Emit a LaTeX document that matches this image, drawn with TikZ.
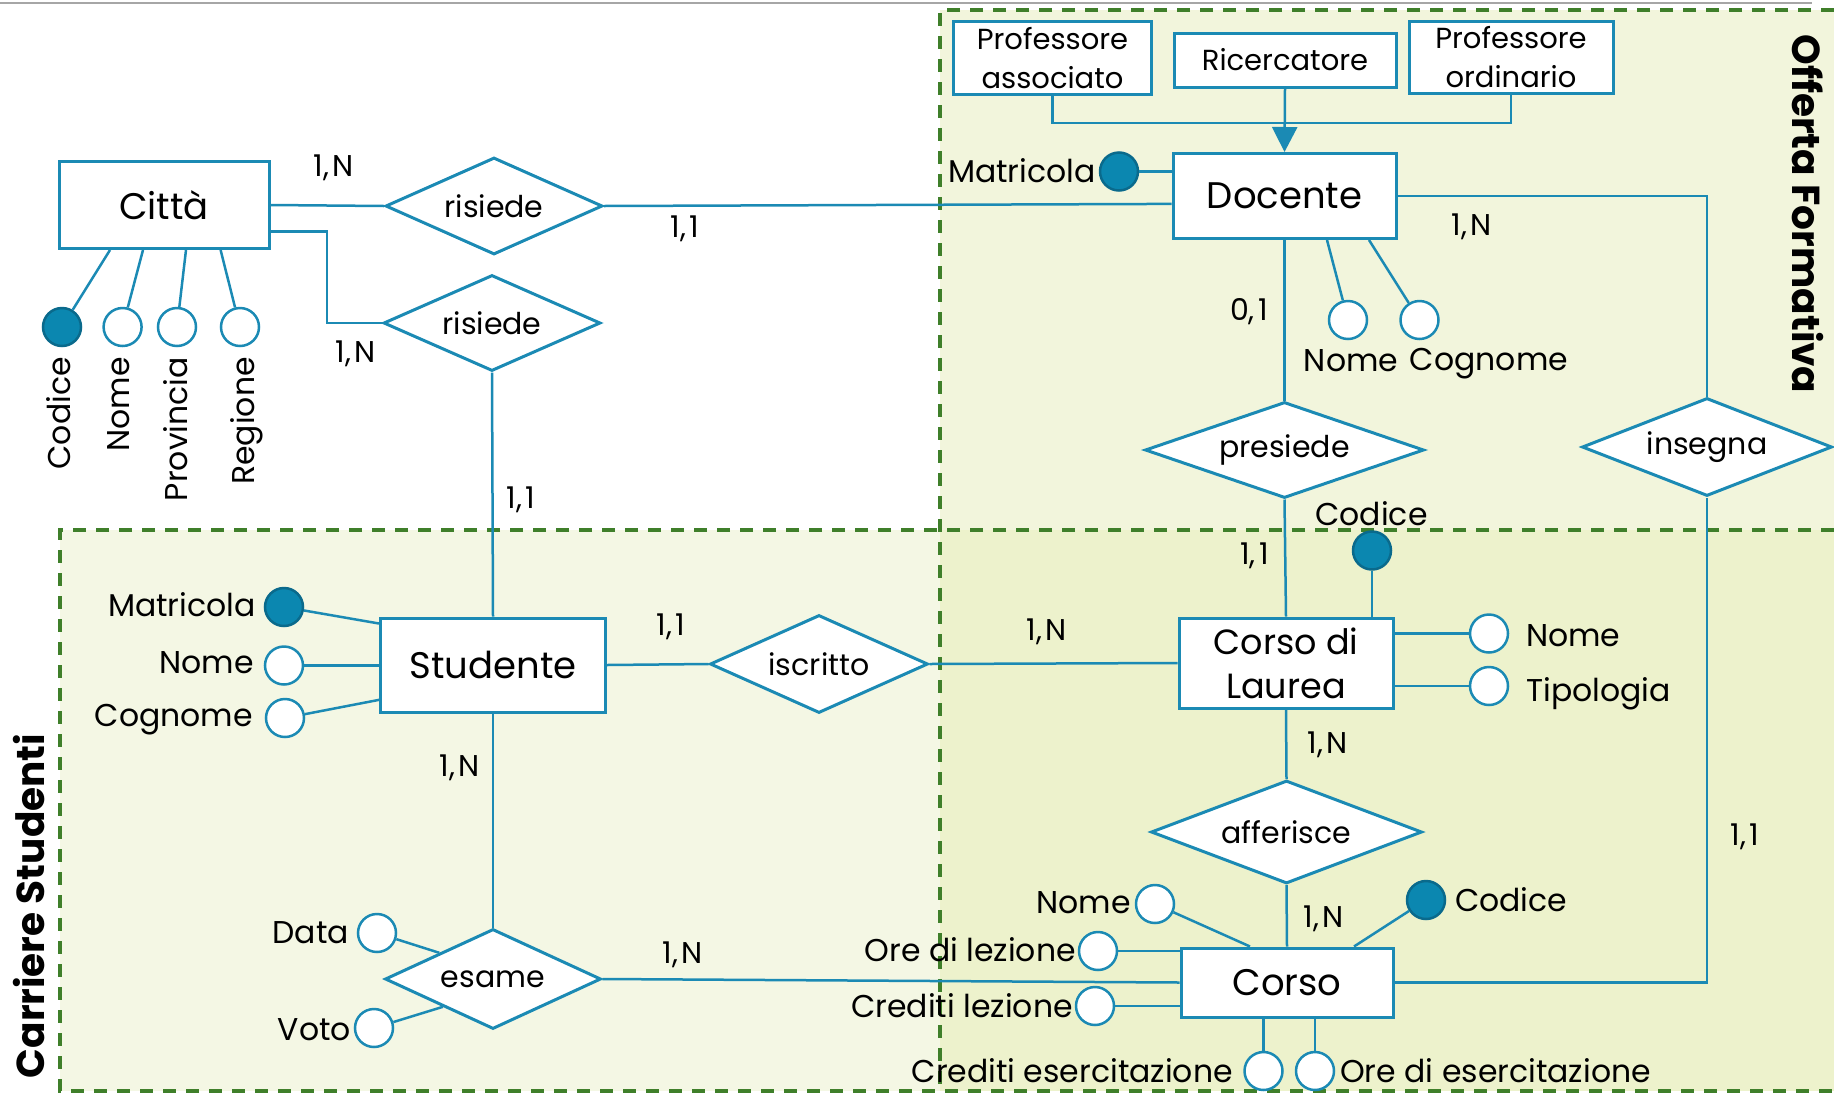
\documentclass[tikz,border=0pt]{standalone}
\usepackage{fontspec}
\setmainfont{Poppins}
\usetikzlibrary{shapes.geometric,arrows.meta}
\definecolor{lc}{RGB}{27,138,180}
\definecolor{kf}{RGB}{11,135,176}
\definecolor{kd}{RGB}{10,106,140}
\definecolor{dg}{RGB}{63,127,42}
\definecolor{fOF}{RGB}{242,245,220}
\definecolor{fCS}{RGB}{244,247,228}
\definecolor{fOV}{RGB}{237,242,204}
\newcommand{\crd}[2]{#1,\kern3.5pt#2}
\tikzset{
  ent/.style={draw=lc, line width=3pt, fill=white, inner sep=0pt, align=center,
    font=\fontsize{37}{40}\selectfont},
  rel/.style={diamond, shape aspect=2.5, draw=lc, line width=3pt, fill=white, inner sep=0pt,
    font=\fontsize{30}{32}\selectfont},
  att/.style={circle, draw=lc, line width=2.5pt, fill=white, minimum size=38pt, inner sep=0pt},
  key/.style={circle, draw=kd, line width=2.5pt, fill=kf, minimum size=38pt, inner sep=0pt},
  lbl/.style={inner sep=0pt, font=\fontsize{31.5}{34}\selectfont},
  card/.style={inner sep=0pt, font=\fontsize{30}{32}\selectfont},
  conn/.style={draw=lc, line width=2.5pt},
  zone/.style={draw=dg, line width=3.5pt, dash pattern=on 13pt off 10pt},
  ztitle/.style={inner sep=0pt, font=\fontsize{39}{41}\selectfont\bfseries}
}
\begin{document}
\begin{tikzpicture}[x=1pt,y=-1pt]
\useasboundingbox (0,0) rectangle (1834,1093);
% zones
\fill[fOF] (940,10) rectangle (1834,1091);
\fill[fCS] (60,530) rectangle (1834,1091);
\fill[fOV] (940,530) rectangle (1834,1091);
\draw[zone] (1834,10) -- (940,10) -- (940,1091);
\draw[zone] (1834,530) -- (60,530) -- (60,1091) -- (1834,1091);
\draw[gray!70, line width=1.2pt] (0,3) -- (1812,3);
\node[ztitle, rotate=-90] (tof) at (1808,214) {Offerta Formativa};
\node[ztitle, rotate=90] (tcs) at (29,906) {Carriere Studenti};

% entities
\node[ent, minimum width=210pt, minimum height=87pt] (citta) at (164,205) {Città};
\node[ent, minimum width=223pt, minimum height=85pt] (docente) at (1284.5,196) {Docente};
\node[ent, minimum width=198pt, minimum height=73pt, font=\fontsize{29}{39}\selectfont] (pa) at (1052.5,58) {Professore\\associato};
\node[ent, minimum width=222pt, minimum height=54pt, font=\fontsize{29}{39}\selectfont] (ric) at (1285,60) {Ricercatore};
\node[ent, minimum width=204pt, minimum height=72pt, font=\fontsize{29}{39}\selectfont] (po) at (1511,57) {Professore\\ordinario};
\node[ent, minimum width=225pt, minimum height=94pt] (studente) at (493,665) {Studente};
\node[ent, minimum width=214pt, minimum height=90pt, font=\fontsize{35}{44}\selectfont] (cdl) at (1286,663) {Corso di\\Laurea};
\node[ent, minimum width=212pt, minimum height=69pt] (corso) at (1287,982.5) {Corso};

% relationships
\node[rel, minimum width=217pt, minimum height=97pt] (r1) at (494,206) {risiede};
\node[rel, minimum width=217pt, minimum height=96pt] (r2) at (492,323) {risiede};
\node[rel, minimum width=279pt, minimum height=96pt] (presiede) at (1284.5,450) {presiede};
\node[rel, minimum width=250pt, minimum height=98pt] (insegna) at (1707,447) {insegna};
\node[rel, minimum width=218pt, minimum height=98pt] (iscritto) at (819,664) {iscritto};
\node[rel, minimum width=216pt, minimum height=100pt] (esame) at (493,979) {esame};
\node[rel, minimum width=271pt, minimum height=103pt] (afferisce) at (1286.5,832) {afferisce};

% attributes: Citta
\node[key] (cc) at (62,327) {};
\node[att] (cn) at (122.6,327) {};
\node[att] (cp) at (177,327) {};
\node[att] (cr) at (240,327) {};
\node[lbl, rotate=90, anchor=east] (lcc) at (59,357) {Codice};
\node[lbl, rotate=90, anchor=east] (lcn) at (119,357) {Nome};
\node[lbl, rotate=90, anchor=east] (lcp) at (176,357) {Provincia};
\node[lbl, rotate=90, anchor=east] (lcr) at (247,357) {Regione};
% Docente
\node[key] (dm) at (1119,171.5) {};
\node[lbl, anchor=east] (ldm) at (1096,171) {Matricola};
\node[att] (dn) at (1348,320) {};
\node[att] (dcg) at (1419.5,320) {};
\node[lbl] (ldn) at (1351,361) {Nome};
\node[lbl] (ldcg) at (1489,364) {Cognome};
% Studente
\node[key] (sm) at (284,607) {};
\node[att] (sn) at (284,665.5) {};
\node[att] (sc) at (285,718) {};
\node[lbl, anchor=east] (lsm) at (256,605) {Matricola};
\node[lbl, anchor=east] (lsn) at (254,663) {Nome};
\node[lbl, anchor=east] (lsc) at (253,720) {Cognome};
% esame
\node[att] (ed) at (377,933) {};
\node[att] (ev) at (374,1028) {};
\node[lbl, anchor=east] (led) at (349,933) {Data};
\node[lbl, anchor=east] (lev) at (351,1030) {Voto};
% Corso di Laurea
\node[key] (cdk) at (1372,550.5) {};
\node[lbl] (lcdk) at (1371.5,514) {Codice};
\node[att] (cdn) at (1489,633.5) {};
\node[att] (cdt) at (1489,686) {};
\node[lbl, anchor=west] (lcdn) at (1526,636) {Nome};
\node[lbl, anchor=west] (lcdt) at (1526,694) {Tipologia};
% Corso
\node[att] (con) at (1155,904) {};
\node[key] (cok) at (1426,900) {};
\node[att] (col) at (1098,951) {};
\node[att] (cocl) at (1095,1006) {};
\node[att] (coce) at (1263.5,1071) {};
\node[att] (coe) at (1315,1071) {};
\node[lbl, anchor=east] (lcon) at (1131,903) {Nome};
\node[lbl, anchor=west] (lcok) at (1455,900) {Codice};
\node[lbl, anchor=east] (lcol) at (1076,950) {Ore di lezione};
\node[lbl, anchor=east] (lcocl) at (1073,1006) {Crediti lezione};
\node[lbl, anchor=east] (lcoce) at (1233,1071) {Crediti esercitazione};
\node[lbl, anchor=west] (lcoe) at (1340,1071) {Ore di esercitazione};

% connectors
\coordinate (k1) at (327,323);
\coordinate (jn) at (1284.5,123);
\draw[conn] (citta.east) -- (r1.west);
\draw[conn] (r1.east) -- (docente.184);
\draw[conn] (citta.-14) -| (k1) -- (r2.west);
\draw[conn] (r2.south) -- (studente.north);
\draw[conn] (studente.east) -- (iscritto.west);
\draw[conn] (iscritto.east) -- (cdl.west);
\draw[conn] (studente.south) -- (esame.north);
\draw[conn] (esame.east) -- (corso.west);
\draw[conn] (docente.south) -- (presiede.north);
\draw[conn] (presiede.south) -- (cdl.north);
\draw[conn] (cdl.south) -- (afferisce.north);
\draw[conn] (afferisce.south) -- (corso.north);
\draw[conn] (docente.east) -| (insegna.north);
\draw[conn] (corso.east) -| (insegna.south);
\draw[conn] (pa.south) |- (jn) -| (po.south);
\draw[conn, -{Triangle[width=25pt,length=25pt]}] (ric.south) -- (docente.north);
% attribute links
\draw[conn] ([xshift=-54pt]citta.south) -- (cc);
\draw[conn] ([xshift=-21pt]citta.south) -- (cn);
\draw[conn] ([xshift=22pt]citta.south) -- (cp);
\draw[conn] ([xshift=56.6pt]citta.south) -- (cr);
\draw[conn] (dm) -- (docente.west |- dm);
\draw[conn] ([xshift=42.5pt]docente.south) -- (dn);
\draw[conn] ([xshift=84.5pt]docente.south) -- (dcg);
\draw[conn] (sm) -- (studente.160);
\draw[conn] (sn) -- (studente.west |- sn);
\draw[conn] (sc) -- (studente.197);
\draw[conn] (ed) -- (esame.154);
\draw[conn] (ev) -- (esame.209);
\draw[conn] (cdk) -- (cdl.north -| cdk);
\draw[conn] (cdl.east |- cdn) -- (cdn);
\draw[conn] (cdl.east |- cdt) -- (cdt);
\draw[conn] (con) -- ([xshift=-37pt]corso.north);
\draw[conn] (cok) -- ([xshift=67pt]corso.north);
\draw[conn] (col) -- (corso.west |- col);
\draw[conn] (cocl) -- (corso.west |- cocl);
\draw[conn] ([xshift=-23.5pt]corso.south) -- (coce);
\draw[conn] ([xshift=28pt]corso.south) -- (coe);

% cardinalities
\node[card] (c1) at (334,168) {\crd{1}{N}};
\node[card] (c2) at (685,229) {\crd{1}{1}};
\node[card] (c3) at (356,354) {\crd{1}{N}};
\node[card] (c4) at (521,500) {\crd{1}{1}};
\node[card] (c5) at (1472,227) {\crd{1}{N}};
\node[card] (c6) at (1249,312) {\crd{0}{1}};
\node[card] (c7) at (1254.5,556) {\crd{1}{1}};
\node[card] (c8) at (671,627) {\crd{1}{1}};
\node[card] (c9) at (1047,632) {\crd{1}{N}};
\node[card] (c10) at (460,768) {\crd{1}{N}};
\node[card] (c11) at (1327.5,745) {\crd{1}{N}};
\node[card] (c12) at (1324,919) {\crd{1}{N}};
\node[card] (c13) at (683,955) {\crd{1}{N}};
\node[card] (c14) at (1745,837) {\crd{1}{1}};
\end{tikzpicture}
\end{document}
